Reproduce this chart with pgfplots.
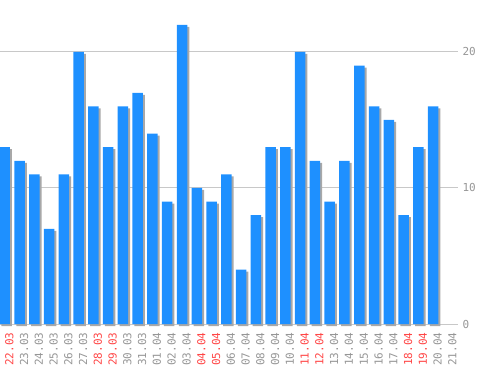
\documentclass[border=0pt]{standalone}
\usepackage{pgfplots}
\usepackage{pgfplotstable}
\pgfplotsset{compat=1.18}
\usepackage{fontspec}
\setmainfont{DejaVu Sans Mono}
\definecolor{barblue}{RGB}{30,144,255}
\definecolor{shadowgray}{RGB}{168,168,168}
\definecolor{txtgray}{RGB}{150,150,150}
\definecolor{wkred}{RGB}{255,70,70}
\definecolor{gridgray}{RGB}{200,200,200}

\pgfplotstableread{
x y
0 13
1 12
2 11
3 7
4 11
5 20
6 16
7 13
8 16
9 17
10 14
11 9
12 22
13 10
14 9
15 11
16 4
17 8
18 13
19 13
20 20
21 12
22 9
23 12
24 19
25 16
26 15
27 8
28 13
29 16
}\datatable

\begin{document}
\begin{tikzpicture}
\useasboundingbox (0,0) rectangle (498bp,370bp);
\begin{axis}[
  at={(0,46bp)}, anchor=south west,
  width=458bp, height=324bp, scale only axis,
  xmin=-0.626, xmax=30.38, ymin=0, ymax=23.82,
  axis line style={draw=none},
  clip=false,
  major tick length=0pt,
  tick style={draw=none},
  xtick={0,...,30},
  xticklabels={\textcolor{wkred}{22.03},23.03,24.03,25.03,26.03,27.03,\textcolor{wkred}{28.03},\textcolor{wkred}{29.03},30.03,31.03,01.04,02.04,03.04,\textcolor{wkred}{04.04},\textcolor{wkred}{05.04},06.04,07.04,08.04,09.04,10.04,\textcolor{wkred}{11.04},\textcolor{wkred}{12.04},13.04,14.04,15.04,16.04,17.04,\textcolor{wkred}{18.04},\textcolor{wkred}{19.04},20.04,21.04},
  xticklabel style={rotate=90, anchor=east, font=\fontsize{11bp}{13bp}\selectfont, text=txtgray},
  xticklabel shift=5bp,
  ytick={0,10,20},
  yticklabel pos=right,
  yticklabel style={anchor=west, font=\fontsize{11bp}{13bp}\selectfont, text=txtgray},
  yticklabel shift=1bp,
  /pgf/number format/assume math mode=true,
  ymajorgrids, grid style={gridgray, line width=1bp},
]
\addplot[ybar, bar width=10.5bp, bar shift=-2.5bp, fill=shadowgray, draw=none, yshift=-2bp] table {\datatable};
\addplot[ybar, bar width=10.5bp, bar shift=-4.5bp, fill=barblue, draw=none] table {\datatable};
\end{axis}
\end{tikzpicture}
\end{document}
